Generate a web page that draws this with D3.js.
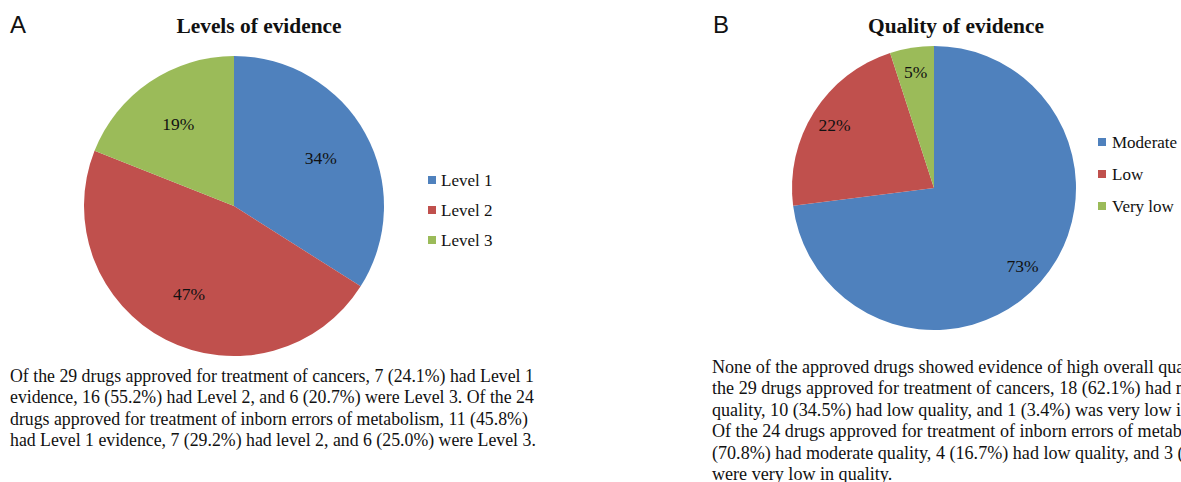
<!DOCTYPE html>
<html>
<head>
<meta charset="utf-8">
<script src="https://cdn.jsdelivr.net/npm/d3@7"></script>
<style>
  html, body { margin: 0; padding: 0; background: #fff; overflow: hidden; }
  svg { display: block; }
</style>
</head>
<body>
<svg id="chart" width="1181" height="482"></svg>
<script>
// Panel A: levels of evidence
const levelCategories = ["Level 1", "Level 2", "Level 3"];
const levelValues = [34, 47, 19];
const levelLabels = ["34%", "47%", "19%"];

// Panel B: quality of evidence
const qualityCategories = ["Moderate", "Low", "Very low"];
const qualityValues = [73, 22, 5];
const qualityLabels = ["73%", "22%", "5%"];

const sliceColors = ["#4F81BD", "#C0504D", "#9BBB59"];

const captionA = [
  "Of the 29 drugs approved for treatment of cancers, 7 (24.1%) had Level 1",
  "evidence, 16 (55.2%) had Level 2, and 6 (20.7%) were Level 3. Of the 24",
  "drugs approved for treatment of inborn errors of metabolism, 11 (45.8%)",
  "had Level 1 evidence, 7 (29.2%) had level 2, and 6 (25.0%) were Level 3."
];
const captionB = [
  "None of the approved drugs showed evidence of high overall quality. Of",
  "the 29 drugs approved for treatment of cancers, 18 (62.1%) had moderate",
  "quality, 10 (34.5%) had low quality, and 1 (3.4%) was very low in quality.",
  "Of the 24 drugs approved for treatment of inborn errors of metabolism, 17",
  "(70.8%) had moderate quality, 4 (16.7%) had low quality, and 3 (12.5%)",
  "were very low in quality."
];

const svg = d3.select("#chart");
const serif = "'Liberation Serif', 'Times New Roman', serif";
const sans = "'Liberation Sans', Arial, sans-serif";

function drawPanel(opt) {
  const g = svg.append("g");

  // panel letter
  g.append("text")
    .attr("x", opt.letterX).attr("y", 33)
    .attr("font-family", sans).attr("font-size", 24)
    .attr("fill", "#111")
    .text(opt.letter);

  // title
  g.append("text")
    .attr("x", opt.titleX).attr("y", 33)
    .attr("text-anchor", "middle")
    .attr("font-family", serif).attr("font-size", 21.4)
    .attr("font-weight", "bold").attr("fill", "#111")
    .text(opt.title);

  const color = d3.scaleOrdinal().domain(opt.categories).range(sliceColors);
  const pie = d3.pie().sort(null).value(d => d.value);
  const data = opt.categories.map((c, i) => ({ name: c, value: opt.values[i], label: opt.labels[i] }));
  const arcs = pie(data);
  const arc = d3.arc().innerRadius(0).outerRadius(opt.r);
  const labelArc = d3.arc().innerRadius(opt.r * opt.labelFrac).outerRadius(opt.r * opt.labelFrac);

  const pg = g.append("g").attr("transform", `translate(${opt.cx},${opt.cy})`);
  pg.selectAll("path.slice").data(arcs).enter().append("path")
    .attr("class", "slice")
    .attr("d", arc)
    .attr("fill", d => color(d.data.name));

  pg.selectAll("text.pct").data(arcs).enter().append("text")
    .attr("class", "pct")
    .attr("transform", d => `translate(${labelArc.centroid(d)})`)
    .attr("text-anchor", "middle")
    .attr("dy", "0.35em")
    .attr("font-family", serif).attr("font-size", 17.5)
    .attr("fill", "#111")
    .text(d => d.data.label);

  // legend
  const lg = g.append("g").attr("transform", `translate(${opt.legendX},${opt.legendY})`);
  const items = lg.selectAll("g").data(opt.categories).enter().append("g")
    .attr("transform", (d, i) => `translate(0,${i * opt.legendStep})`);
  items.append("rect")
    .attr("x", 0).attr("y", -4).attr("width", 8).attr("height", 8)
    .attr("fill", d => color(d));
  items.append("text")
    .attr("x", opt.legendTextX).attr("y", 0).attr("dy", "0.33em")
    .attr("font-family", serif).attr("font-size", 17)
    .attr("fill", "#111")
    .text(d => d);

  // caption
  const cap = g.append("text")
    .attr("font-family", serif).attr("font-size", opt.captionSize)
    .attr("fill", "#111");
  opt.caption.forEach((line, i) => {
    cap.append("tspan")
      .attr("x", opt.captionX)
      .attr("y", opt.captionY + i * opt.captionStep)
      .text(line);
  });
}

drawPanel({
  letter: "A", letterX: 10, title: "Levels of evidence", titleX: 259,
  categories: levelCategories, values: levelValues, labels: levelLabels,
  cx: 234, cy: 206, r: 150, labelFrac: 0.66,
  legendX: 428, legendY: 180, legendStep: 30, legendTextX: 13,
  caption: captionA, captionX: 10, captionY: 382, captionStep: 21.3, captionSize: 17.8
});

drawPanel({
  letter: "B", letterX: 713, title: "Quality of evidence", titleX: 956,
  categories: qualityCategories, values: qualityValues, labels: qualityLabels,
  cx: 934, cy: 188, r: 142, labelFrac: 0.83,
  legendX: 1098, legendY: 142, legendStep: 32, legendTextX: 14,
  caption: captionB, captionX: 712, captionY: 373, captionStep: 21.4, captionSize: 18.1
});
</script>
</body>
</html>
